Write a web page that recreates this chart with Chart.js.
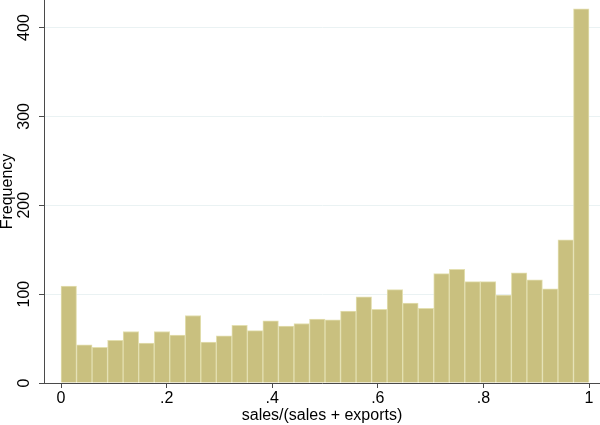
<!DOCTYPE html>
<html>
<head>
<meta charset="utf-8">
<script src="https://cdn.jsdelivr.net/npm/chart.js@4/dist/chart.umd.min.js"></script>
<style>
  html, body { margin: 0; padding: 0; background: #fff; }
  #wrap { width: 600px; height: 425px; }
</style>
</head>
<body>
<div id="wrap"><canvas id="chart" width="600" height="425"></canvas></div>
<script>
// histogram of sales/(sales + exports), 34 bins from 0 to 1
const binStart = 0;
const binEnd = 1;
const freq = [109, 43, 40, 48, 58, 45, 58, 54, 76, 46, 53, 65, 59, 70, 64, 67, 72,
              71, 81, 97, 83, 105, 90, 84, 123, 128, 114, 114, 99, 124, 116, 106, 161, 421];
const xTicks = [0, 0.2, 0.4, 0.6, 0.8, 1];
const xTickLabels = ['0', '.2', '.4', '.6', '.8', '1'];
const yTicks = [0, 100, 200, 300, 400];
const yTickLabels = ['0', '100', '200', '300', '400'];

const binW = (binEnd - binStart) / freq.length;
const points = freq.map((f, i) => ({ x: binStart + (i + 0.5) * binW, y: f }));

const FONT = 'Arial, "Liberation Sans", Helvetica, sans-serif';
const AXIS = '#4a4a4a';

// y labels are vertical in the original, so draw them by hand
const yLabels = {
  id: 'yLabels',
  afterDraw(chart) {
    const ctx = chart.ctx;
    const y = chart.scales.y;
    ctx.save();
    ctx.fillStyle = '#000';
    ctx.textAlign = 'center';
    ctx.textBaseline = 'middle';
    ctx.font = '16px ' + FONT;
    yTicks.forEach((v, i) => {
      ctx.save();
      ctx.translate(25, y.getPixelForValue(v));
      ctx.rotate(-Math.PI / 2);
      ctx.fillText(yTickLabels[i], 0, 0);
      ctx.restore();
    });
    ctx.translate(8, (chart.chartArea.top + chart.chartArea.bottom) / 2);
    ctx.rotate(-Math.PI / 2);
    ctx.fillText('Frequency', 0, 0);
    ctx.restore();
  }
};

new Chart(document.getElementById('chart'), {
  type: 'bar',
  data: {
    datasets: [{
      data: points,
      backgroundColor: '#c9c07f',
      borderColor: '#e3dfb0',
      borderWidth: 1,
      barPercentage: 1,
      categoryPercentage: 1
    }]
  },
  options: {
    responsive: false,
    animation: false,
    layout: { padding: 0 },
    plugins: { legend: { display: false }, tooltip: { enabled: false } },
    scales: {
      x: {
        type: 'linear',
        offset: false,
        min: -0.0322,
        max: 1.0208,
        afterBuildTicks: s => { s.ticks = xTicks.map(v => ({ value: v })); },
        afterFit: s => { s.height = 42; },
        ticks: {
          color: '#000',
          font: { size: 16, family: FONT },
          padding: 1,
          maxRotation: 0,
          autoSkip: false,
          callback: (v) => xTickLabels[xTicks.indexOf(v)] ?? ''
        },
        grid: { offset: false, drawOnChartArea: false, tickLength: 5, tickColor: AXIS },
        border: { display: true, color: AXIS, width: 1 },
        title: {
          display: true,
          text: 'sales/(sales + exports)',
          color: '#000',
          font: { size: 16, family: FONT },
          padding: { top: 0, bottom: 0 }
        }
      },
      y: {
        min: 0,
        max: 431,
        afterBuildTicks: s => { s.ticks = yTicks.map(v => ({ value: v })); },
        afterFit: s => { s.width = 44; },
        ticks: { display: false },
        grid: {
          color: ctx => ctx.tick && ctx.tick.value === 0 ? 'rgba(0,0,0,0)' : '#eaf2f3',
          tickColor: AXIS,
          tickLength: 5,
          lineWidth: 1
        },
        border: { display: true, color: AXIS, width: 1 }
      }
    }
  },
  plugins: [yLabels]
});
</script>
</body>
</html>
